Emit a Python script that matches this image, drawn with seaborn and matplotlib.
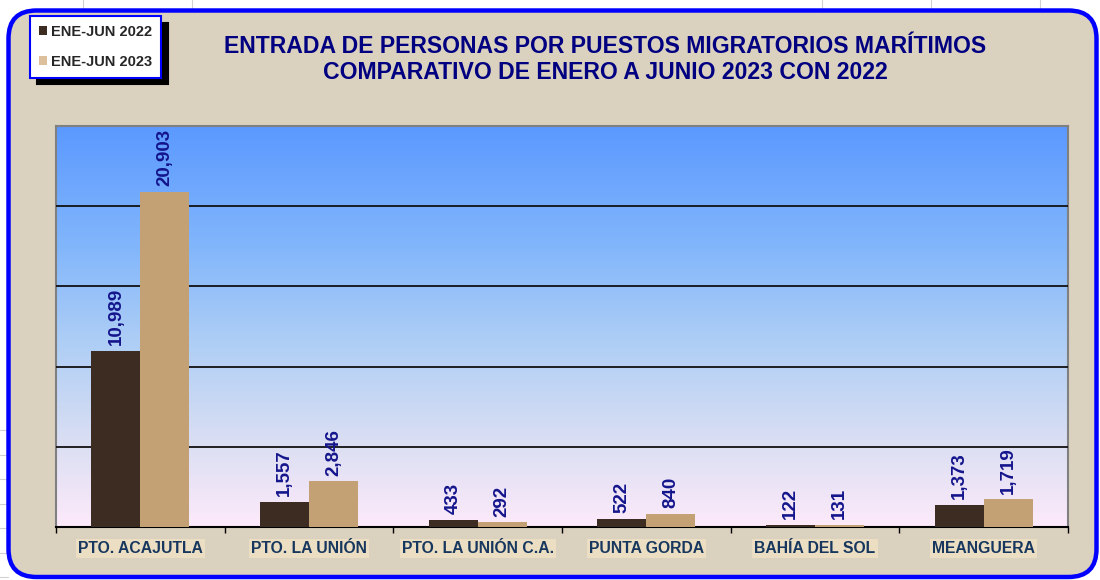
import matplotlib
matplotlib.use('Agg')
import matplotlib.pyplot as plt
import seaborn as sns
import numpy as np
import pandas as pd
from matplotlib.patches import FancyBboxPatch, Patch
from matplotlib.lines import Line2D
from matplotlib.colors import LinearSegmentedColormap

# Datos
puestos = ['PTO. ACAJUTLA', 'PTO. LA UNIÓN', 'PTO. LA UNIÓN C.A.',
           'PUNTA GORDA', 'BAHÍA DEL SOL', 'MEANGUERA']
ene_jun_2022 = [10989, 1557, 433, 522, 122, 1373]
ene_jun_2023 = [20903, 2846, 292, 840, 131, 1719]
periodos = ['ENE-JUN 2022', 'ENE-JUN 2023']
titulo = ('ENTRADA DE PERSONAS POR PUESTOS MIGRATORIOS MARÍTIMOS\n'
          'COMPARATIVO DE ENERO A JUNIO 2023 CON 2022')

df = pd.DataFrame({
    'Puesto': puestos * 2,
    'Periodo': [periodos[0]] * len(puestos) + [periodos[1]] * len(puestos),
    'Personas': ene_jun_2022 + ene_jun_2023,
})

sns.set_theme(style='white')
plt.rcParams['font.family'] = ['Liberation Sans', 'DejaVu Sans']

W, H = 1100, 580
fig = plt.figure(figsize=(11, 5.8), dpi=100, facecolor='white')

# Cuadrícula de hoja de cálculo al fondo (detrás del panel)
for xp in [83, 192, 822, 931, 1040]:
    fig.add_artist(Line2D([xp / W, xp / W], [0.95, 1.0], color='#d0d0d0',
                          lw=0.8, zorder=-2))
for yp in np.arange(430, 580, 24.5):
    fig.add_artist(Line2D([0, 8 / W], [1 - yp / H, 1 - yp / H], color='#d0d0d0',
                          lw=0.8, zorder=-2))

# Panel redondeado con borde azul
panel = FancyBboxPatch((0.085, 0.03), 10.88, 5.665,
                       boxstyle='round,pad=0,rounding_size=0.28',
                       transform=fig.dpi_scale_trans, facecolor='#dad1bf',
                       edgecolor='#0000ff', lw=3.2, zorder=-1)
fig.add_artist(panel)

ax = fig.add_axes([56 / W, 1 - 527 / H, (1068 - 56) / W, (527 - 126) / H])
ax.set_facecolor('none')

# Fondo degradado del área de trazado
cmap = LinearSegmentedColormap.from_list(
    'fondo', [(0, '#fdeafa'), (0.2, '#dcdff3'), (0.45, '#b0cff5'),
              (0.7, '#82b6fb'), (1, '#5b99ff')])
grad = np.linspace(0, 1, 256).reshape(-1, 1)
ax.imshow(grad, cmap=cmap, origin='lower', aspect='auto',
          extent=[-0.5, 5.5, 0, 25000], zorder=0)

sns.barplot(data=df, x='Puesto', y='Personas', hue='Periodo', ax=ax,
            palette=['#3d2c21', '#c4a175'], width=0.58, saturation=1,
            edgecolor='none', zorder=3, legend=False)

for cont in ax.containers:
    ax.bar_label(cont, labels=[f'{int(b.get_height()):,}' for b in cont],
                 rotation=90, padding=4, fontsize=13.5, fontweight='bold',
                 color='#14148c')

ax.set_xlim(-0.5, 5.5)
ax.set_ylim(0, 25000)
ax.set_yticks([5000, 10000, 15000, 20000])
ax.set_yticklabels([])
ax.tick_params(axis='y', length=0)
ax.yaxis.grid(True, color='#111111', lw=1.3, zorder=1)
ax.set_axisbelow(False)
for ln in ax.get_ygridlines():
    ln.set_zorder(1)

ax.set_xticks(range(len(puestos)))
ax.set_xticks(np.arange(-0.5, 6, 1), minor=True)
ax.tick_params(axis='x', which='major', length=0, pad=10)
ax.tick_params(axis='x', which='minor', length=4, width=1, color='black',
               direction='out', bottom=True)
ax.set_xticklabels(puestos, fontsize=11.3, fontweight='bold', color='#17375e')
for t in ax.get_xticklabels():
    t.set_bbox(dict(facecolor='#ebdec2', edgecolor='none', pad=1.5))
ax.set_xlabel('')
ax.set_ylabel('')

for s in ['left', 'top', 'right']:
    ax.spines[s].set_color('#808080')
    ax.spines[s].set_linewidth(1.5)
ax.spines['bottom'].set_color('black')
ax.spines['bottom'].set_linewidth(1.5)

fig.text(605 / W, 1 - 59.5 / H, titulo, ha='center', va='center',
         fontsize=16.6, fontweight='bold', color='#000080', linespacing=1.22)

handles = [Patch(facecolor='#3d2c21', edgecolor='none'),
           Patch(facecolor='#dcc09c', edgecolor='none')]
leg = fig.legend(handles, periodos, loc='upper left',
                 bbox_to_anchor=(30 / W, 1 - 16 / H), frameon=True,
                 fancybox=False, shadow={'color': 'black', 'alpha': 1, 'ox': 5, 'oy': -5},
                 handlelength=0.55, handleheight=0.55, handletextpad=0.3,
                 labelspacing=1.1, borderpad=0.6, borderaxespad=0,
                 prop={'weight': 'bold', 'size': 10.5})
leg.get_frame().set_edgecolor('#0000ff')
leg.get_frame().set_linewidth(1.5)
leg.get_frame().set_facecolor('white')
leg.get_frame().set_alpha(1)

fig.savefig('out.png', dpi=100)
